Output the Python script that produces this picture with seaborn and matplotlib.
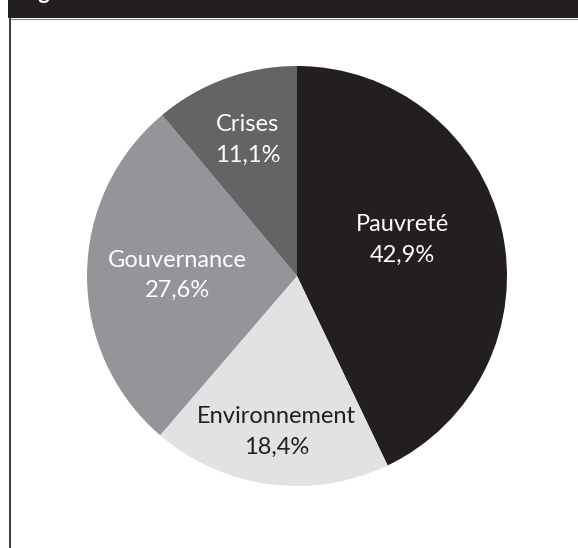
import numpy as np
import matplotlib
matplotlib.use("Agg")
import matplotlib.pyplot as plt
from matplotlib.patches import Rectangle
from matplotlib.lines import Line2D
import seaborn as sns

# Répartition par domaine (%)
categories = ["Pauvreté", "Environnement", "Gouvernance", "Crises"]
values = [42.9, 18.4, 27.6, 11.1]
slice_colors = ["#231f20", "#e1e2e3", "#939598", "#646466"]
text_colors = ["white", "#231f20", "white", "white"]

sns.set_theme(style="white")
plt.rcParams["font.family"] = ["Lato", "DejaVu Sans"]

W, H = 578, 548
fig = plt.figure(figsize=(W / 100, H / 100), dpi=100)
fig.patch.set_facecolor("white")

# Bandeau de titre (haut) et filet gauche
fig.patches.append(Rectangle((8 / W, 1 - 18 / H), 1 - 8 / W, 18 / H,
                             transform=fig.transFigure, facecolor="#231f20",
                             edgecolor="none", zorder=0))
fig.lines.append(Line2D([9 / W, 1], [1 - 19 / H, 1 - 19 / H], transform=fig.transFigure,
                        color="#8a8a8a", lw=0.8))
fig.lines.append(Line2D([9.5 / W, 9.5 / W], [0, 1 - 18 / H], transform=fig.transFigure,
                        color="#3a3a3a", lw=1.4))
fig.text(20 / W, 1 + 1 / H, "Figure", color="white", fontsize=16, fontweight="bold",
         va="baseline", ha="left")

# Disque
cx, cy, r = 297, 276, 210
ax = fig.add_axes([(cx - r) / W, (H - cy - r) / H, 2 * r / W, 2 * r / H])
wedges, _ = ax.pie(values, colors=slice_colors, startangle=90, counterclock=False,
                   radius=1, wedgeprops=dict(linewidth=0, antialiased=True))
ax.set_xlim(-1, 1)
ax.set_ylim(-1, 1)
ax.set_aspect("equal")
ax.axis("off")

# Étiquettes : nom + pourcentage, placées sur la bissectrice de chaque secteur
label_radius = [0.53, 0.75, 0.57, 0.69]
label_shift = [6, 0, 0, 0]
for w, name, v, tc, rr, sh in zip(wedges, categories, values, text_colors,
                                  label_radius, label_shift):
    mid = np.deg2rad((w.theta1 + w.theta2) / 2 + sh)
    txt = f"{name}\n{v:.1f}%".replace(".", ",")
    ax.text(rr * np.cos(mid), rr * np.sin(mid), txt, ha="center", va="center",
            color=tc, fontsize=17, linespacing=1.55)

fig.savefig("out.png", dpi=100, facecolor="white")
